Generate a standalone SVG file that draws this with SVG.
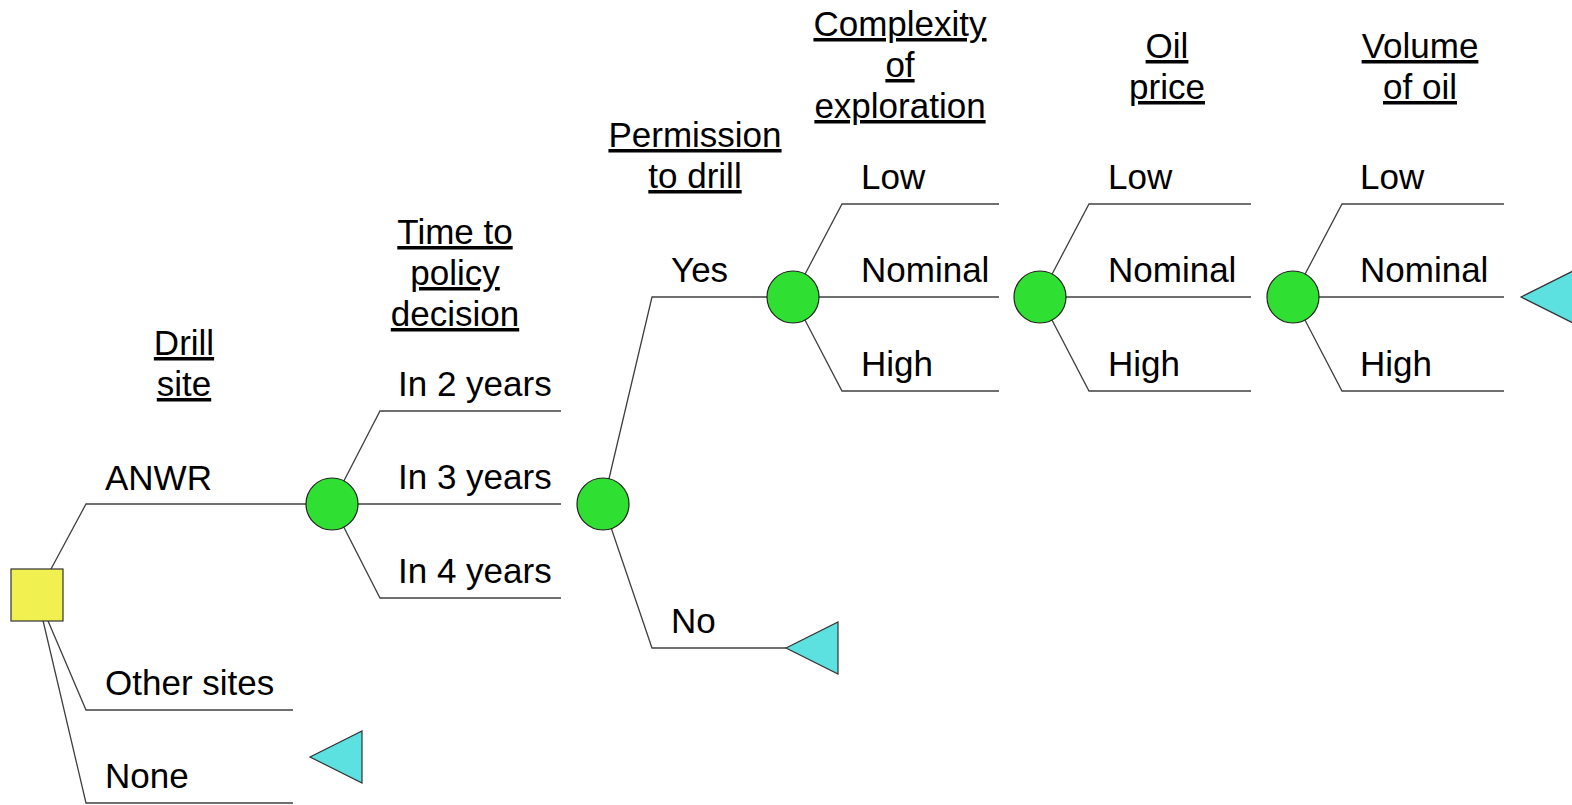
<svg xmlns="http://www.w3.org/2000/svg" width="1572" height="805" viewBox="0 0 1572 805">
<style>
text{font-family:"Liberation Sans",Arial,sans-serif;font-size:35px;fill:#000}
.h{text-anchor:middle;text-decoration:underline}
.ln{fill:none;stroke:#404040;stroke-width:1.3}
.chance{fill:#2fe032;stroke:#222;stroke-width:1.2}
.dec{fill:#f0f050;stroke:#333;stroke-width:1.2}
.term{fill:#5ce0e0;stroke:#333;stroke-width:1.2}
</style>
<rect width="1572" height="805" fill="#fff"/>
<g id="connectors" class="ln">
<polyline points="37,595 86,504 332,504"/>
<polyline points="37,595 86,710 293,710"/>
<polyline points="37,595 86,803 293,803"/>
<polyline points="332,504 380,411 561,411"/>
<polyline points="332,504 561,504"/>
<polyline points="332,504 380,598 561,598"/>
<polyline points="603,504 652,297 793,297"/>
<polyline points="603,504 652,648 786,648"/>
<polyline points="793,297 842,204 999,204"/>
<polyline points="793,297 999,297"/>
<polyline points="793,297 842,391 999,391"/>
<polyline points="1040,297 1089,204 1251,204"/>
<polyline points="1040,297 1251,297"/>
<polyline points="1040,297 1089,391 1251,391"/>
<polyline points="1293,297 1342,204 1504,204"/>
<polyline points="1293,297 1504,297"/>
<polyline points="1293,297 1342,391 1504,391"/>
</g>
<g id="headers">
<text class="h" x="184" y="355">Drill</text>
<text class="h" x="184" y="396">site</text>
<text class="h" x="455" y="244">Time to</text>
<text class="h" x="455" y="285">policy</text>
<text class="h" x="455" y="326">decision</text>
<text class="h" x="695" y="147">Permission</text>
<text class="h" x="695" y="188">to drill</text>
<text class="h" x="900" y="36">Complexity</text>
<text class="h" x="900" y="77">of</text>
<text class="h" x="900" y="118">exploration</text>
<text class="h" x="1167" y="58">Oil</text>
<text class="h" x="1167" y="99">price</text>
<text class="h" x="1420" y="58">Volume</text>
<text class="h" x="1420" y="99">of oil</text>
</g>
<g id="labels">
<text x="105" y="490">ANWR</text>
<text x="105" y="695">Other sites</text>
<text x="105" y="788">None</text>
<text x="398" y="396">In 2 years</text>
<text x="398" y="489">In 3 years</text>
<text x="398" y="583">In 4 years</text>
<text x="671" y="282">Yes</text>
<text x="671" y="633">No</text>
<text x="861" y="189">Low</text>
<text x="861" y="282">Nominal</text>
<text x="861" y="376">High</text>
<text x="1108" y="189">Low</text>
<text x="1108" y="282">Nominal</text>
<text x="1108" y="376">High</text>
<text x="1360" y="189">Low</text>
<text x="1360" y="282">Nominal</text>
<text x="1360" y="376">High</text>
</g>
<g id="drill-site"><rect class="dec" x="11" y="569" width="52" height="52"/></g>
<g id="time-to-decision"><circle class="chance" cx="332" cy="504" r="26"/></g>
<g id="permission"><circle class="chance" cx="603" cy="504" r="26"/></g>
<g id="complexity"><circle class="chance" cx="793" cy="297" r="26"/></g>
<g id="oil-price"><circle class="chance" cx="1040" cy="297" r="26"/></g>
<g id="volume"><circle class="chance" cx="1293" cy="297" r="26"/></g>
<g id="end-none"><polygon class="term" points="310,757 362,731 362,783"/></g>
<g id="end-no"><polygon class="term" points="786,648 838,622 838,674"/></g>
<g id="end-value"><polygon class="term" points="1521,297 1573,271 1573,323"/></g>
</svg>
